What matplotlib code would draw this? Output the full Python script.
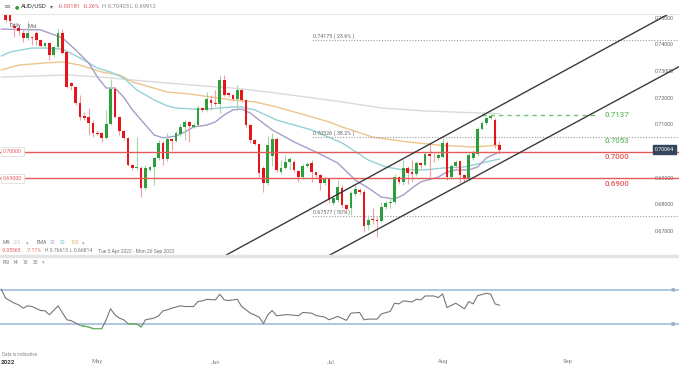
import matplotlib
matplotlib.use("Agg")
import matplotlib.pyplot as plt
import numpy as np
from matplotlib.lines import Line2D

plt.rcParams["font.family"] = ["Roboto", "DejaVu Sans"]

# daily AUD/USD candles, index 0 = first candle on the left edge
opens = [0.7645, 0.7560, 0.7510, 0.7470, 0.7462, 0.7446, 0.7424, 0.7430, 0.7446, 0.7418,
         0.7396, 0.7406, 0.7362, 0.7392, 0.7444, 0.7373, 0.7257, 0.7242, 0.7182, 0.7133,
         0.7129, 0.7107, 0.7071, 0.7069, 0.7051, 0.7103, 0.7234, 0.7129, 0.7077, 0.7051,
         0.6949, 0.6938, 0.6940, 0.6862, 0.6931, 0.6942, 0.6974, 0.7032, 0.6972, 0.7047,
         0.7039, 0.7066, 0.7092, 0.7111, 0.7092, 0.7099, 0.7163, 0.7156, 0.7193, 0.7182,
         0.7178, 0.7268, 0.7219, 0.7212, 0.7197, 0.7231, 0.7193, 0.7099, 0.7043, 0.7030,
         0.6938, 0.6881, 0.6985, 0.7047, 0.6922, 0.6940, 0.6960, 0.6960, 0.6927, 0.6904,
         0.6945, 0.6956, 0.6922, 0.6911, 0.6881, 0.6900, 0.6807, 0.6818, 0.6865, 0.6799,
         0.6789, 0.6841, 0.6855, 0.6850, 0.6725, 0.6748, 0.6745, 0.6740, 0.6793, 0.6806,
         0.6812, 0.6904, 0.6886, 0.6938, 0.6925, 0.6917, 0.6957, 0.6950, 0.6990, 0.6985,
         0.6976, 0.6979, 0.7032, 0.6904, 0.6946, 0.6964, 0.6912, 0.6901, 0.6975, 0.6990,
         0.7086, 0.7107, 0.7126, 0.7118, 0.70245]
highs = [0.7661, 0.7580, 0.7530, 0.7481, 0.7475, 0.7455, 0.7491, 0.7432, 0.7450, 0.7420,
         0.7410, 0.7410, 0.7395, 0.7463, 0.7458, 0.7375, 0.7260, 0.7245, 0.7212, 0.7148,
         0.7163, 0.7118, 0.7081, 0.7072, 0.7156, 0.7272, 0.7240, 0.7132, 0.7080, 0.7053,
         0.6952, 0.7054, 0.6945, 0.6949, 0.6945, 0.6980, 0.7043, 0.7040, 0.7069, 0.7050,
         0.7075, 0.7103, 0.7118, 0.7115, 0.7105, 0.7174, 0.7168, 0.7223, 0.7210, 0.7231,
         0.7287, 0.7287, 0.7222, 0.7215, 0.7249, 0.7235, 0.7196, 0.7102, 0.7047, 0.7033,
         0.6945, 0.7060, 0.7069, 0.7054, 0.6968, 0.6987, 0.6980, 0.6968, 0.6930, 0.6952,
         0.6960, 0.6968, 0.6925, 0.6915, 0.6905, 0.6902, 0.6830, 0.6893, 0.6875, 0.6805,
         0.6852, 0.6875, 0.6862, 0.6855, 0.6762, 0.6790, 0.6755, 0.6810, 0.6815, 0.6830,
         0.6915, 0.6910, 0.6968, 0.6945, 0.6970, 0.6965, 0.6960, 0.7000, 0.7032, 0.6995,
         0.6995, 0.7051, 0.7040, 0.6955, 0.6968, 0.6970, 0.6915, 0.6995, 0.7005, 0.7090,
         0.7115, 0.7130, 0.7137, 0.7124, 0.70403]
lows = [0.7590, 0.7485, 0.7475, 0.7430, 0.7435, 0.7410, 0.7418, 0.7398, 0.7400, 0.7390,
        0.7392, 0.7343, 0.7355, 0.7385, 0.7365, 0.7238, 0.7231, 0.7174, 0.7118, 0.7118,
        0.7062, 0.7054, 0.7062, 0.7036, 0.7048, 0.7100, 0.7125, 0.7062, 0.7045, 0.6945,
        0.6931, 0.6931, 0.6829, 0.6856, 0.6928, 0.6874, 0.6970, 0.6949, 0.6965, 0.7004,
        0.7035, 0.7060, 0.7043, 0.7036, 0.7088, 0.7095, 0.7148, 0.7150, 0.7156, 0.7170,
        0.7144, 0.7208, 0.7205, 0.7190, 0.7156, 0.7185, 0.7093, 0.7032, 0.7025, 0.6905,
        0.6850, 0.6875, 0.6945, 0.6923, 0.6915, 0.6935, 0.6930, 0.6925, 0.6886, 0.6898,
        0.6940, 0.6886, 0.6900, 0.6856, 0.6874, 0.6807, 0.6800, 0.6812, 0.6790, 0.6768,
        0.6762, 0.6835, 0.6840, 0.6700, 0.6705, 0.6730, 0.6681, 0.6735, 0.6785, 0.6790,
        0.6805, 0.6878, 0.6875, 0.6880, 0.6885, 0.6910, 0.6940, 0.6945, 0.6904, 0.6960,
        0.6970, 0.6975, 0.6895, 0.6898, 0.6940, 0.6882, 0.6885, 0.6895, 0.6968, 0.6985,
        0.7080, 0.7100, 0.7120, 0.7012, 0.69912]
closes = [0.7600, 0.7492, 0.7488, 0.7462, 0.7450, 0.7424, 0.7446, 0.7425, 0.7418, 0.7396,
          0.7406, 0.7362, 0.7392, 0.7444, 0.7369, 0.7242, 0.7246, 0.7182, 0.7129, 0.7126,
          0.7107, 0.7069, 0.7067, 0.7051, 0.7103, 0.7234, 0.7129, 0.7077, 0.7051, 0.6949,
          0.6938, 0.6941, 0.6862, 0.6938, 0.6942, 0.6974, 0.7032, 0.6972, 0.7047, 0.7039,
          0.7069, 0.7092, 0.7111, 0.7096, 0.7099, 0.7163, 0.7156, 0.7197, 0.7182, 0.7178,
          0.7268, 0.7212, 0.7212, 0.7197, 0.7231, 0.7193, 0.7099, 0.7043, 0.7030, 0.6918,
          0.6881, 0.7025, 0.7047, 0.6930, 0.6940, 0.6960, 0.6971, 0.6930, 0.6904, 0.6945,
          0.6953, 0.6922, 0.6911, 0.6881, 0.6896, 0.6818, 0.6826, 0.6867, 0.6798, 0.6784,
          0.6845, 0.6858, 0.6850, 0.6720, 0.6745, 0.6742, 0.6740, 0.6793, 0.6806, 0.6812,
          0.6904, 0.6886, 0.6938, 0.6919, 0.6917, 0.6957, 0.6950, 0.6990, 0.6985, 0.6982,
          0.6987, 0.7032, 0.6904, 0.6946, 0.6961, 0.6912, 0.6901, 0.6987, 0.6994, 0.7086,
          0.7107, 0.7126, 0.7133, 0.70245, 0.70064]

# moving averages (read at selected candles)
ema20_idx = [0, 9, 11, 14, 17, 20, 22, 24, 26, 28, 30, 32, 35, 37, 40, 42, 44, 47, 49, 51,
             53, 55, 57, 59, 62, 67, 72, 77, 81, 84, 87, 90, 92, 94, 96, 100, 102, 104, 107,
             109, 111, 114]
ema20 = [0.7459, 0.7456, 0.7444, 0.7426, 0.7381, 0.7332, 0.7279, 0.7238, 0.7238, 0.7204,
         0.7156, 0.7118, 0.7062, 0.7051, 0.7058, 0.7073, 0.7092, 0.7099, 0.7111, 0.7137,
         0.7156, 0.7159, 0.7144, 0.7118, 0.7081, 0.7036, 0.6998, 0.6957, 0.6893, 0.6863,
         0.6829, 0.6822, 0.6837, 0.6863, 0.6886, 0.6904, 0.6923, 0.6931, 0.6931, 0.6942,
         0.6976, 0.6998]
ema50_idx = [0, 2, 7, 10, 14, 18, 22, 25, 28, 31, 35, 38, 40, 44, 47, 50, 53, 55, 58, 63,
             71, 78, 84, 88, 92, 97, 101, 106, 110, 114]
ema50 = [0.7358, 0.7373, 0.7388, 0.7388, 0.7384, 0.7351, 0.7313, 0.7298, 0.7276, 0.7231,
         0.7193, 0.7171, 0.7163, 0.7159, 0.7159, 0.7163, 0.7167, 0.7167, 0.7156, 0.7118,
         0.7081, 0.7032, 0.6968, 0.6942, 0.6931, 0.6931, 0.6938, 0.6942, 0.6957, 0.6972]
ema100_idx = [0, 4, 10, 14, 18, 23, 27, 30, 34, 38, 43, 48, 53, 58, 63, 68, 75, 78, 85, 93,
              100, 108, 114]
ema100 = [0.7306, 0.7324, 0.7332, 0.7336, 0.7324, 0.7298, 0.7287, 0.7261, 0.7242, 0.7223,
          0.7216, 0.7204, 0.7193, 0.7186, 0.7167, 0.7144, 0.7111, 0.7092, 0.7054, 0.7036,
          0.7024, 0.7017, 0.7024]
ma200_idx = [0, 7, 15, 23, 30, 38, 46, 53, 61, 68, 78, 87, 97, 110, 114]
ma200 = [0.7279, 0.7283, 0.7287, 0.7279, 0.7268, 0.7257, 0.7246, 0.7238, 0.7223, 0.7208,
         0.7186, 0.7163, 0.7152, 0.7144, 0.7142]

# RSI 14
rsi_idx = [0, 1, 3, 4, 5, 6, 7, 9, 10, 11, 13, 15, 16, 18, 20, 21, 23, 24, 25, 26, 27, 28,
           29, 31, 32, 33, 35, 36, 37, 38, 39, 41, 42, 44, 45, 46, 47, 49, 50, 51, 52, 54,
           55, 57, 59, 60, 61, 62, 63, 65, 66, 68, 69, 71, 72, 74, 75, 76, 77, 79, 80, 82,
           83, 84, 86, 87, 89, 90, 91, 92, 94, 95, 96, 97, 99, 100, 101, 102, 104, 106, 107,
           108, 109, 111, 112, 113, 114]
rsi = [70.8, 60.3, 54.5, 52.5, 48.6, 51.4, 50.6, 45.9, 45.5, 40.9, 51.4, 35.0, 33.9, 28.5,
       26.5, 24.6, 24.6, 35.0, 47.9, 40.9, 37.0, 35.0, 30.4, 30.0, 26.5, 35.0, 37.0, 39.7,
       45.5, 46.7, 48.6, 51.4, 50.6, 50.6, 56.4, 57.2, 59.1, 58.4, 65.0, 58.4, 57.6, 59.1,
       50.6, 42.8, 38.2, 30.4, 40.9, 45.9, 39.7, 40.9, 40.9, 39.7, 43.6, 42.8, 40.1, 38.2,
       35.0, 37.0, 39.0, 34.3, 42.8, 43.6, 35.0, 35.8, 35.8, 42.0, 44.8, 54.5, 53.7, 57.2,
       56.0, 59.1, 58.4, 63.0, 63.0, 61.1, 65.3, 49.4, 54.5, 47.9, 56.4, 53.7, 63.4, 66.1,
       65.3, 53.7, 52.1]

# levels
support_res = [0.7000, 0.6900]
fib_vals = [0.74175, 0.70526, 0.67577]
fib_pct = ["23.6%", "38.2%", "50%"]
fib_start = 71
peak = 0.7137
peak_span = [110, 136.5]
chan_upper = [(51.9, 0.66156), (152.3, 0.75119)]
chan_lower = [(75.2, 0.66119), (153.7, 0.73056)]
price_ticks = [0.75, 0.74, 0.73, 0.72, 0.71, 0.69, 0.68, 0.67]
last_price = 0.70064
month_labels = ["2022", "May", "Jun", "Jul", "Aug", "Sep"]
month_idx = [0, 22, 49, 75.5, 101, 129.7]

W, H = 679, 366
fig = plt.figure(figsize=(W / 100, H / 100), dpi=100)
fig.patch.set_facecolor("white")


def fy(y):
    return 1 - y / H


ax = fig.add_axes([0, fy(255), 1, (255 - 14) / H])
ax2 = fig.add_axes([0, fy(356), 1, 100 / H])
for a in (ax, ax2):
    for s in a.spines.values():
        s.set_visible(False)
    a.set_yticks([])
    a.set_xticks([])
    a.set_xlim(-0.3, 155.1)
ax.set_ylim(0.66119, 0.75156)
ax2.set_ylim(-7.6, 110)

UP, DN = "#2f9d3b", "#e5151d"
UPW, DNW = "#a3d8a6", "#f3a0a3"

# moving averages
ax.plot(ma200_idx, ma200, color="#dadada", lw=1.0, zorder=1)
ax.plot(ema100_idx, ema100, color="#eec48c", lw=1.0, zorder=1)
ax.plot(ema50_idx, ema50, color="#93d2d6", lw=1.0, zorder=1)
ax.plot(ema20_idx, ema20, color="#a89cc8", lw=1.0, zorder=1)

# candles
o = np.array(opens); c = np.array(closes)
hi = np.array(highs); lo = np.array(lows)
idx = np.arange(len(o))
up = c >= o
ax.vlines(idx[up], lo[up], hi[up], color=UPW, lw=0.8, zorder=2)
ax.vlines(idx[~up], lo[~up], hi[~up], color=DNW, lw=0.8, zorder=2)
body = np.maximum(np.abs(c - o), 0.00025)
ax.bar(idx[up], body[up], bottom=o[up], width=0.62, color=UP, zorder=3)
ax.bar(idx[~up], body[~up], bottom=c[~up], width=0.62, color=DN, zorder=3)

# support / resistance
for v in support_res:
    ax.axhline(v, color="#e45a5a", lw=1.0, zorder=4)
for v, pc in zip(fib_vals, fib_pct):
    ax.plot([fib_start, 160], [v, v], color="#9a9a9a", lw=0.8, ls=(0, (1, 1.5)), zorder=1)
    ax.text(fib_start + 0.3, v + 0.0004, "%.5f ( %s )" % (v, pc), fontsize=3.9,
            color="#666666", va="bottom", ha="left")
ax.plot(peak_span, [peak, peak], color="#6cc46c", lw=1.0, ls=(0, (3, 3)), zorder=4)

# channel
ax.axline(chan_upper[0], chan_upper[1], color="#3a3a3a", lw=1.0, zorder=5)
ax.axline(chan_lower[0], chan_lower[1], color="#3a3a3a", lw=1.0, zorder=5)

# labels on the right
tr = ax.get_yaxis_transform()
for p in price_ticks:
    ax.text(655 / W, p, "%.5f" % p, transform=tr, fontsize=3.9, color="#666666",
            va="center", ha="left")
big = dict(transform=tr, fontsize=5.8, weight="medium", va="center")
ax.text(605 / W, peak, "0.7137", color="#6abf69", **big)
ax.text(605 / W, 0.7041, "0.7053", color="#6abf69", **big)
ax.text(605 / W, 0.6980, "0.7000", color="#e45a5a", **big)
ax.text(605 / W, 0.6880, "0.6900", color="#e45a5a", **big)
ax.text(655 / W, last_price, "%.5f" % last_price, transform=tr, fontsize=3.9, color="white",
        va="center", ha="left", zorder=10,
        bbox=dict(boxstyle="square,pad=0.35", fc="#34465c", ec="#34465c"))
for v in support_res:
    ax.text(3 / W, v, "%.5f" % v, transform=tr, fontsize=3.9, color="#e45a5a", va="center",
            ha="left", zorder=10,
            bbox=dict(boxstyle="square,pad=0.4", fc="white", ec="#dddddd", lw=0.6))

# RSI
ax2.axhline(70, color="#a9c1dd", lw=1.3)
ax2.axhline(30, color="#a9c1dd", lw=1.3)
ax2.plot(rsi_idx, rsi, color="#777777", lw=0.8)
rs = np.ma.masked_where(np.array(rsi) > 30.5, rsi)
ax2.plot(rsi_idx, rs, color="#5cc05c", lw=0.8)
tr2 = ax2.get_yaxis_transform()
ax2.text(671 / W, 70, "70", transform=tr2, fontsize=3.3, color="#888888", va="center")
ax2.text(671 / W, 30, "30", transform=tr2, fontsize=3.3, color="#888888", va="center")
trx = ax2.get_xaxis_transform()
for m, lab in zip(month_idx, month_labels):
    if lab == "2022":
        ax2.text(m, -0.06, lab, transform=trx, fontsize=4.6, color="#444444", ha="left",
                 va="center", weight="bold")
    else:
        ax2.text(m, -0.06, lab, transform=trx, fontsize=4.2, color="#888888", ha="center",
                 va="center")

# separators
fig.add_artist(Line2D([0, 1], [fy(13.5), fy(13.5)], color="#e8e8e8", lw=0.8))
fig.add_artist(Line2D([0, 1], [fy(255.5), fy(255.5)], color="#e4e4e4", lw=2.5))

# header
fs = 4.2
hy = fy(6.5)
fig.text(3 / W, hy, "\u2261", fontsize=6, color="#888888", va="center", family="DejaVu Sans")
fig.text(15 / W, hy, "\u25cf", fontsize=3.6, color="#2f9d3b", va="center",
         family="DejaVu Sans")
fig.text(21 / W, hy, "AUD/USD", fontsize=4.4, color="#333333", va="center")
fig.text(50 / W, hy, "\u25be", fontsize=4.2, color="#666666", va="center",
         family="DejaVu Sans")
fig.text(58 / W, hy, "-0.00181", fontsize=fs, color="#e05a5a", va="center")
fig.text(83 / W, hy, "-0.26%", fontsize=fs, color="#e05a5a", va="center")
fig.text(102 / W, hy, "H 0.70403", fontsize=fs, color="#888888", va="center")
fig.text(130 / W, hy, "L 0.69912", fontsize=fs, color="#888888", va="center")
fig.text(10 / W, fy(26), "Daily", fontsize=3.9, color="#666666", va="center")
fig.text(28 / W, fy(26), "Mid", fontsize=3.9, color="#666666", va="center")

# legend rows
sf = 3.6
ly = fy(243)
fig.text(3 / W, ly, "MA", fontsize=sf, color="#777777", va="center")
fig.text(13 / W, ly, "200", fontsize=sf, color="#cccccc", va="center")
fig.text(26 / W, ly, "\u00d7", fontsize=sf, color="#888888", va="center")
fig.text(37 / W, ly, "EMA", fontsize=sf, color="#777777", va="center")
fig.text(50 / W, ly, "20", fontsize=sf, color="#a89cc8", va="center")
fig.text(60 / W, ly, "50", fontsize=sf, color="#6fc3c8", va="center")
fig.text(71 / W, ly, "100", fontsize=sf, color="#e6b06a", va="center")
fig.text(82 / W, ly, "\u00d7", fontsize=sf, color="#888888", va="center")
ly = fy(251)
fig.text(2 / W, ly, "-0.05565", fontsize=sf, color="#e05a5a", va="center")
fig.text(27 / W, ly, "-7.11%", fontsize=sf, color="#e05a5a", va="center")
fig.text(45 / W, ly, "H 0.76613", fontsize=sf, color="#777777", va="center")
fig.text(70 / W, ly, "L 0.66814", fontsize=sf, color="#777777", va="center")
fig.text(98 / W, ly, "Tue 5 Apr 2022 - Mon 26 Sep 2022", fontsize=sf, color="#777777",
         va="center")
ly = fy(262)
fig.text(3 / W, ly, "RSI", fontsize=sf, color="#777777", va="center")
fig.text(13 / W, ly, "14", fontsize=sf, color="#777777", va="center")
fig.text(23 / W, ly, "70", fontsize=sf, color="#777777", va="center")
fig.text(33 / W, ly, "30", fontsize=sf, color="#777777", va="center")
fig.text(42 / W, ly, "\u00d7", fontsize=sf, color="#888888", va="center")
fig.text(2 / W, fy(355), "Data is indicative", fontsize=3.3, color="#888888", va="center")

fig.savefig("out.png", dpi=100)
